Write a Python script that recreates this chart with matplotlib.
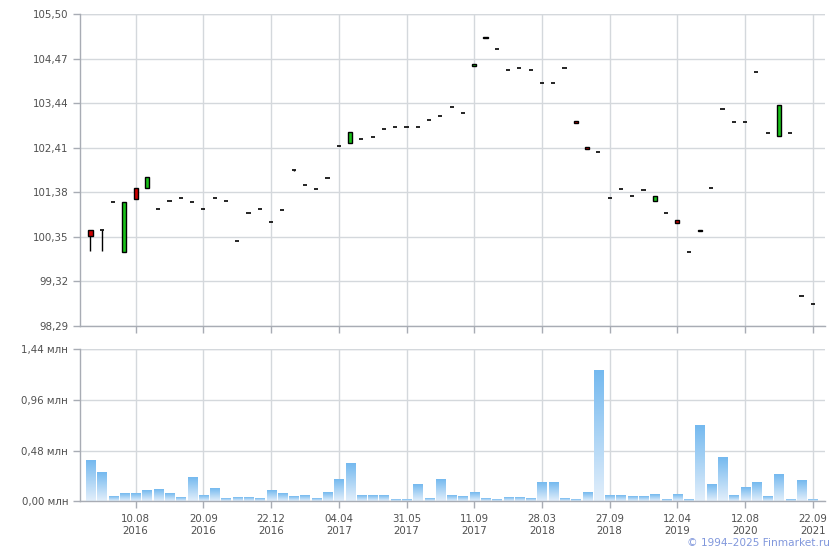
import numpy as np
import matplotlib
matplotlib.use("Agg")
import matplotlib.pyplot as plt
from matplotlib.patches import Rectangle
from matplotlib.colors import LinearSegmentedColormap

# ---------------- data ----------------
opens = [100.50, 100.50, 101.15, 100.01, 101.49, 101.49, 100.99, 101.19, 101.24, 101.15,
         100.99, 101.24, 101.17, 100.25, 100.89, 100.99, 100.69, 100.96, 101.90, 101.54,
         101.45, 101.70, 102.44, 102.53, 102.61, 102.65, 102.84, 102.90, 102.90, 102.90,
         103.04, 103.14, 103.34, 103.21, 104.29, 104.95, 104.68, 104.20, 104.25, 104.20,
         103.90, 103.90, 104.25, 103.02, 102.42, 102.30, 101.24, 101.45, 101.29, 101.43,
         101.19, 100.89, 100.73, 99.99, 100.52, 101.49, 103.30, 103.00, 103.00, 104.15,
         102.74, 102.69, 102.74, 98.99, 98.79]
closes = [100.38, 100.50, 101.15, 101.15, 101.23, 101.73, 100.99, 101.19, 101.24, 101.15,
          100.99, 101.24, 101.17, 100.25, 100.89, 100.99, 100.69, 100.96, 101.90, 101.54,
          101.45, 101.70, 102.44, 102.77, 102.61, 102.65, 102.84, 102.90, 102.90, 102.90,
          103.04, 103.14, 103.34, 103.21, 104.34, 104.98, 104.68, 104.20, 104.25, 104.20,
          103.90, 103.90, 104.25, 102.99, 102.39, 102.30, 101.24, 101.45, 101.29, 101.43,
          101.29, 100.89, 100.68, 99.99, 100.49, 101.49, 103.30, 103.00, 103.00, 104.15,
          102.74, 103.39, 102.74, 98.99, 98.79]
highs = [max(o, c) for o, c in zip(opens, closes)]
lows = [min(o, c) for o, c in zip(opens, closes)]
lows[0] = 100.03
lows[1] = 100.03
lows[18] = 101.87

volumes = [0.382, 0.268, 0.041, 0.069, 0.069, 0.098, 0.107, 0.069, 0.031, 0.220,
           0.050, 0.117, 0.022, 0.031, 0.031, 0.022, 0.098, 0.069, 0.041, 0.050,
           0.022, 0.079, 0.202, 0.353, 0.050, 0.050, 0.050, 0.012, 0.012, 0.155,
           0.022, 0.202, 0.050, 0.041, 0.079, 0.022, 0.012, 0.031, 0.031, 0.022,
           0.173, 0.173, 0.022, 0.012, 0.079, 1.234, 0.050, 0.050, 0.041, 0.041,
           0.060, 0.012, 0.060, 0.012, 0.713, 0.155, 0.410, 0.050, 0.126, 0.173,
           0.041, 0.249, 0.012, 0.192, 0.012]

xtick_idx = [4, 10, 16, 22, 28, 34, 40, 46, 52, 58, 64]
xtick_labels = ["10.08\n2016", "20.09\n2016", "22.12\n2016", "04.04\n2017", "31.05\n2017",
                "11.09\n2017", "28.03\n2018", "27.09\n2018", "12.04\n2019", "12.08\n2020",
                "22.09\n2021"]
price_ticks = [98.29, 99.32, 100.35, 101.38, 102.41, 103.44, 104.47, 105.50]
vol_ticks = [0.0, 0.48, 0.96, 1.44]

# ---------------- style ----------------
grid_c = "#d4d8dc"
axis_c = "#a8acb4"
text_c = "#505050"
fs = 7.4

fig = plt.figure(figsize=(8.4, 5.5), dpi=100)
ax1 = fig.add_axes([80/840, 1-326/550, 745/840, 312/550])
ax2 = fig.add_axes([80/840, 1-501.3/550, 745/840, 152/550])

n = len(opens)
xlim = (-0.93, 65.08)

def style(ax):
    for s in ["top", "right"]:
        ax.spines[s].set_visible(False)
    for s in ["left", "bottom"]:
        ax.spines[s].set_color(axis_c)
        ax.spines[s].set_linewidth(1)
    ax.tick_params(axis="both", colors=axis_c, labelcolor=text_c, labelsize=fs,
                   length=5, width=1, direction="out", pad=3.5)
    ax.set_xticks(xtick_idx)
    ax.grid(True, color=grid_c, linewidth=1)
    ax.set_axisbelow(True)
    ax.set_xlim(*xlim)

# ---------------- price panel ----------------
style(ax1)
ax1.set_ylim(price_ticks[0], price_ticks[-1])
ax1.set_yticks(price_ticks)
ax1.set_yticklabels([f"{t:.2f}".replace(".", ",") for t in price_ticks])
ax1.set_xticklabels([])
ax1.axhline(price_ticks[-1], color=grid_c, lw=1, zorder=0)

bw = 0.36
for i in range(n):
    o, c, h, l = opens[i], closes[i], highs[i], lows[i]
    if h > l:
        ax1.plot([i, i], [l, h], color="black", lw=1, zorder=2, solid_capstyle="butt")
    if o == c:
        ax1.plot([i - bw/2, i + bw/2], [o, o], color="black", lw=1.2, zorder=3,
                 solid_capstyle="butt")
    else:
        col = "#19c219" if c > o else "#cc0000"
        ax1.add_patch(Rectangle((i - bw/2, min(o, c)), bw, abs(c - o),
                                facecolor=col, edgecolor="black", lw=1, zorder=3))

# ---------------- volume panel ----------------
style(ax2)
cmap = LinearSegmentedColormap.from_list("vol", ["#e3effb", "#74b9ef"])
grad = np.linspace(0, 1, 256).reshape(-1, 1)
vw = 0.8
for i, v in enumerate(volumes):
    ax2.imshow(grad, extent=[i - vw/2, i + vw/2, 0, v], origin="lower", cmap=cmap,
               aspect="auto", zorder=2, interpolation="bilinear")
ax2.set_xlim(*xlim)
ax2.set_ylim(0, 1.44)
ax2.set_yticks(vol_ticks)
ax2.set_yticklabels([f"{t:.2f}".replace(".", ",") + " млн" for t in vol_ticks])
ax2.set_xticklabels(xtick_labels, linespacing=1.25)
ax2.tick_params(axis="x", pad=4)
ax2.axhline(1.44, color=grid_c, lw=1, zorder=0)

fig.text(830/840, 1-543/550, "© 1994–2025 Finmarket.ru", ha="right", va="center",
         fontsize=7.6, color="#8097dc")

fig.savefig("out.png", dpi=100)
